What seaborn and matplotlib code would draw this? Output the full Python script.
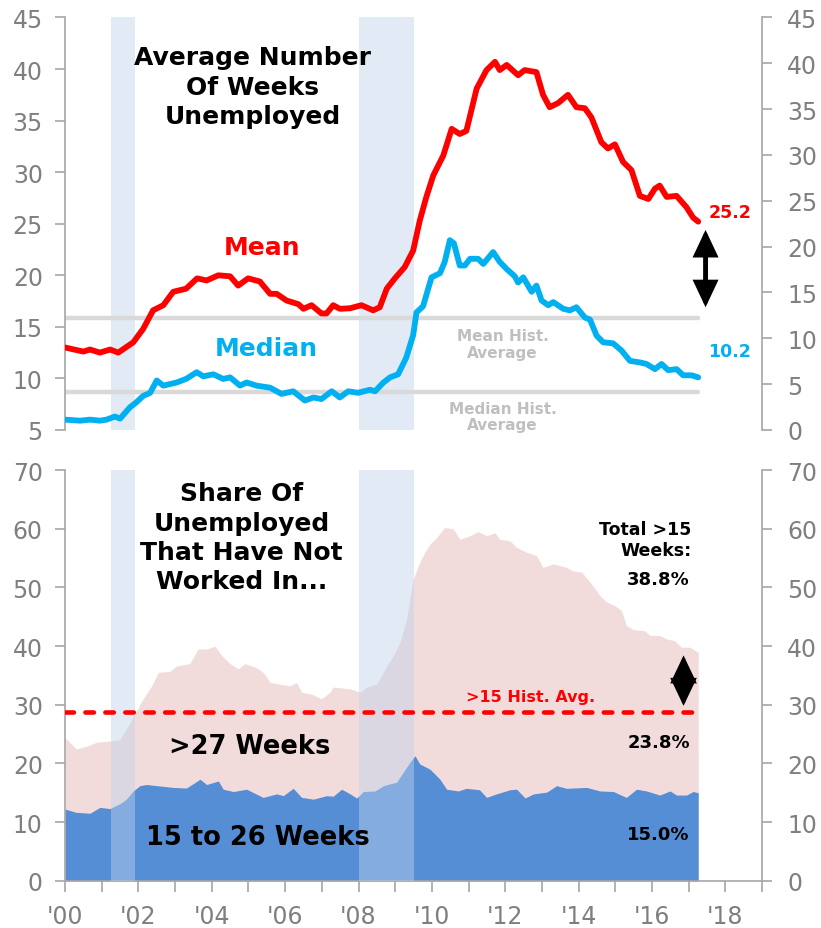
import numpy as np
import pandas as pd
import seaborn as sns
import matplotlib.pyplot as plt

# --- data (decimal years) ---
mean_years = [2000.0, 2000.5, 2000.68, 2000.95, 2001.23, 2001.45, 2001.86, 2002.13, 2002.4, 2002.68,
              2002.95, 2003.3, 2003.6, 2003.86, 2004.18, 2004.5, 2004.72, 2004.99, 2005.31, 2005.59,
              2005.77, 2006.04, 2006.36, 2006.5, 2006.72, 2006.99, 2007.13, 2007.31, 2007.49, 2007.77,
              2008.08, 2008.4, 2008.58, 2008.77, 2008.99, 2009.26, 2009.49, 2009.67, 2009.85, 2010.04,
              2010.31, 2010.54, 2010.76, 2010.94, 2011.22, 2011.49, 2011.72, 2011.85, 2012.04, 2012.35,
              2012.53, 2012.85, 2013.03, 2013.21, 2013.44, 2013.71, 2013.94, 2014.17, 2014.35, 2014.62,
              2014.8, 2014.99, 2015.21, 2015.44, 2015.67, 2015.9, 2016.08, 2016.21, 2016.4, 2016.67,
              2016.94, 2017.12, 2017.26]
mean_weeks = [13.0, 12.6, 12.8, 12.5, 12.8, 12.5, 13.5, 14.8, 16.6, 17.1,
              18.4, 18.7, 19.7, 19.5, 20.0, 19.9, 19.0, 19.7, 19.4, 18.2,
              18.2, 17.55, 17.2, 16.75, 17.1, 16.3, 16.3, 17.1, 16.75, 16.8,
              17.1, 16.6, 16.9, 18.7, 19.7, 20.8, 22.4, 25.3, 27.6, 29.7,
              31.6, 34.2, 33.7, 34.0, 38.1, 39.9, 40.7, 39.9, 40.4, 39.4,
              39.9, 39.7, 37.5, 36.3, 36.7, 37.5, 36.3, 36.2, 35.3, 32.9,
              32.3, 32.7, 31.0, 30.2, 27.7, 27.4, 28.4, 28.7, 27.6, 27.7,
              26.6, 25.6, 25.2]

median_years = [2000.0, 2000.41, 2000.68, 2000.95, 2001.13, 2001.36, 2001.5, 2001.77, 2001.95, 2002.13,
                2002.32, 2002.5, 2002.68, 2003.04, 2003.3, 2003.59, 2003.77, 2004.04, 2004.31, 2004.5,
                2004.77, 2004.95, 2005.22, 2005.59, 2005.9, 2006.22, 2006.54, 2006.77, 2006.99, 2007.27,
                2007.49, 2007.72, 2007.99, 2008.31, 2008.45, 2008.68, 2008.86, 2009.08, 2009.3, 2009.49,
                2009.58, 2009.76, 2009.99, 2010.22, 2010.35, 2010.49, 2010.6, 2010.76, 2010.9, 2011.04,
                2011.26, 2011.4, 2011.67, 2011.85, 2012.04, 2012.26, 2012.35, 2012.49, 2012.72, 2012.85,
                2012.99, 2013.17, 2013.31, 2013.58, 2013.76, 2013.94, 2014.17, 2014.31, 2014.49, 2014.67,
                2014.94, 2015.17, 2015.4, 2015.67, 2015.85, 2016.08, 2016.26, 2016.44, 2016.67, 2016.85,
                2017.08, 2017.26]
median_weeks = [6.0, 5.9, 6.0, 5.9, 6.0, 6.3, 6.1, 7.2, 7.7, 8.3,
                8.6, 9.8, 9.3, 9.6, 9.95, 10.6, 10.2, 10.4, 9.95, 10.1,
                9.3, 9.6, 9.3, 9.1, 8.5, 8.75, 7.85, 8.15, 8.0, 8.75,
                8.15, 8.75, 8.6, 8.9, 8.75, 9.6, 10.1, 10.4, 12.0, 14.2,
                16.4, 17.0, 19.8, 20.2, 21.3, 23.4, 23.1, 20.95, 20.95, 21.6,
                21.6, 21.1, 22.25, 21.3, 20.6, 19.9, 19.3, 19.8, 18.4, 19.0,
                17.55, 17.1, 17.4, 16.75, 16.6, 16.9, 15.9, 15.7, 14.15, 13.5,
                13.4, 12.7, 11.7, 11.55, 11.4, 10.9, 11.4, 10.8, 10.9, 10.3,
                10.3, 10.1]

mean_hist_avg = 15.85
median_hist_avg = 8.7

# share of unemployed out > 15 weeks (top of pink area)
total_years = [2000.0, 2000.31, 2000.58, 2000.86, 2001.22, 2001.49, 2001.67, 2001.86, 2002.13, 2002.36,
               2002.54, 2002.86, 2003.04, 2003.4, 2003.63, 2003.86, 2004.09, 2004.27, 2004.5, 2004.72,
               2004.9, 2005.22, 2005.4, 2005.59, 2005.86, 2006.13, 2006.31, 2006.45, 2006.72, 2006.99,
               2007.22, 2007.31, 2007.77, 2008.04, 2008.22, 2008.49, 2008.77, 2008.95, 2009.13, 2009.31,
               2009.49, 2009.67, 2009.81, 2009.95, 2010.13, 2010.35, 2010.58, 2010.76, 2011.04, 2011.26,
               2011.49, 2011.72, 2011.85, 2012.13, 2012.31, 2012.58, 2012.85, 2013.03, 2013.31, 2013.67,
               2013.85, 2014.08, 2014.31, 2014.58, 2014.76, 2014.99, 2015.17, 2015.3, 2015.49, 2015.8,
               2015.94, 2016.21, 2016.4, 2016.62, 2016.8, 2017.03, 2017.26]
total_share = [24.4, 22.45, 22.9, 23.6, 23.8, 24.0, 25.9, 27.9, 31.0, 33.2,
               35.5, 35.7, 36.6, 37.0, 39.5, 39.5, 39.95, 38.4, 37.0, 36.1,
               37.0, 36.3, 35.5, 33.8, 33.5, 33.2, 33.8, 32.1, 31.8, 31.0,
               32.1, 33.0, 32.7, 32.1, 33.0, 33.5, 36.6, 38.4, 40.6, 44.6,
               51.4, 54.3, 56.0, 57.4, 58.5, 60.2, 60.0, 58.2, 58.8, 59.5,
               58.8, 59.3, 58.2, 57.9, 56.8, 56.0, 55.4, 53.4, 54.0, 53.4,
               52.8, 52.6, 50.9, 48.6, 47.5, 46.9, 46.0, 43.5, 42.8, 42.6,
               41.8, 41.8, 41.2, 40.9, 39.8, 39.8, 38.9]

# share out 15 to 26 weeks (blue area)
short_years = [2000.0, 2000.31, 2000.68, 2000.95, 2001.22, 2001.49, 2001.67, 2001.86, 2002.04, 2002.22,
               2002.5, 2002.95, 2003.31, 2003.68, 2003.86, 2004.18, 2004.31, 2004.59, 2004.95, 2005.4,
               2005.77, 2005.95, 2006.22, 2006.45, 2006.77, 2007.13, 2007.31, 2007.54, 2007.77, 2007.95,
               2008.13, 2008.45, 2008.68, 2009.04, 2009.22, 2009.4, 2009.54, 2009.67, 2009.95, 2010.22,
               2010.4, 2010.72, 2010.94, 2011.3, 2011.49, 2011.76, 2012.13, 2012.31, 2012.54, 2012.77,
               2013.13, 2013.4, 2013.67, 2014.22, 2014.58, 2014.95, 2015.3, 2015.58, 2015.85, 2016.21,
               2016.49, 2016.67, 2016.94, 2017.12, 2017.26]
short_share = [12.2, 11.65, 11.5, 12.5, 12.3, 13.1, 13.9, 15.3, 16.2, 16.4,
               16.2, 15.9, 15.8, 17.3, 16.4, 17.0, 15.6, 15.2, 15.6, 14.2,
               14.8, 14.5, 15.75, 14.2, 13.9, 14.5, 14.4, 15.6, 14.8, 14.1,
               15.2, 15.3, 16.2, 16.8, 18.5, 20.2, 21.3, 19.9, 19.0, 17.3,
               15.6, 15.3, 15.75, 15.5, 14.2, 14.8, 15.5, 15.6, 14.1, 14.8,
               15.1, 16.2, 15.75, 15.9, 15.3, 15.2, 14.2, 15.6, 15.3, 14.6,
               15.3, 14.6, 14.6, 15.2, 15.0]

over15_hist_avg = 28.8

recessions = [(2001.25, 2001.92), (2008.0, 2009.5)]

year_ticks = list(range(2000, 2019, 2))
year_labels = ["'00", "'02", "'04", "'06", "'08", "'10", "'12", "'14", "'16", "'18"]

# --- style ---
sns.set_theme(style='white')
plt.rcParams['font.family'] = ['DejaVu Sans']
plt.rcParams['text.color'] = 'black'
grey_txt = '#7F7F7F'
spine_col = '#A6A6A6'
red = '#FF0000'
cyan = '#00B0F0'
band_col = (190/255, 210/255, 235/255)

fig = plt.figure(figsize=(8.21, 9.29), dpi=100)
ax1 = fig.add_axes([0.0792, 0.5361, 0.849, 0.4440])
ax2 = fig.add_axes([0.0792, 0.0509, 0.849, 0.4421])


def style_axis(ax):
    for s in ['top', 'right', 'bottom', 'left']:
        ax.spines[s].set_visible(False)
    ax.spines['left'].set_visible(True)
    ax.spines['left'].set_color(spine_col)
    ax.spines['left'].set_linewidth(1.2)
    ax.tick_params(axis='y', direction='out', length=7, width=1.2, color=spine_col,
                   labelsize=17, labelcolor=grey_txt, pad=9, left=True)


def style_right(ax, top):
    for s in ['top', 'left', 'bottom']:
        ax.spines[s].set_visible(False)
    ax.spines['right'].set_color(spine_col)
    ax.spines['right'].set_linewidth(1.2)
    ax.tick_params(axis='y', direction='out', length=7, width=1.2, color=spine_col,
                   labelsize=17, labelcolor=grey_txt, pad=11, right=True)
    ax.grid(False)


# ---------- top panel ----------
style_axis(ax1)
for a, b in recessions:
    ax1.axvspan(a, b, color=band_col, alpha=0.45, lw=0, zorder=0)

ax1.plot([2000, 2017.26], [mean_hist_avg] * 2, color='#D9D9D9', lw=3.2, zorder=1)
ax1.plot([2000, 2017.26], [median_hist_avg] * 2, color='#D9D9D9', lw=3.2, zorder=1)

top = pd.DataFrame({'year': mean_years, 'weeks': mean_weeks})
med = pd.DataFrame({'year': median_years, 'weeks': median_weeks})
sns.lineplot(data=top, x='year', y='weeks', color=red, linewidth=4.2, ax=ax1, zorder=3)
sns.lineplot(data=med, x='year', y='weeks', color=cyan, linewidth=4.2, ax=ax1, zorder=3)

ax1.set_xlim(2000, 2019)
ax1.set_ylim(5, 45)
ax1.set_yticks(range(5, 50, 5))
ax1.set_xticks([])
ax1.set_xlabel('')
ax1.set_ylabel('')

ax1r = ax1.twinx()
ax1r.set_ylim(0, 45)
ax1r.set_yticks(range(0, 50, 5))
style_right(ax1r, 45)

ax1.text(2005.12, 38.3, 'Average Number\nOf Weeks\nUnemployed', ha='center', va='center',
         fontsize=18, fontweight='bold', color='black', linespacing=1.3)
ax1.text(2005.37, 22.7, 'Mean', ha='center', va='center', fontsize=18, fontweight='bold', color=red)
ax1.text(2005.5, 12.9, 'Median', ha='center', va='center', fontsize=18, fontweight='bold', color=cyan)
ax1.text(2017.55, 26.1, '25.2', ha='left', va='center', fontsize=12.5, fontweight='bold', color=red)
ax1.text(2017.52, 12.7, '10.2', ha='left', va='center', fontsize=12.5, fontweight='bold', color=cyan)
ax1.text(2011.93, 13.35, 'Mean Hist.\nAverage', ha='center', va='center', fontsize=11,
         fontweight='bold', color='#BFBFBF', linespacing=1.15)
ax1.text(2011.93, 6.3, 'Median Hist.\nAverage', ha='center', va='center', fontsize=11,
         fontweight='bold', color='#BFBFBF', linespacing=1.15)
ax1.annotate('', xy=(2017.46, 24.4), xytext=(2017.46, 16.9),
             arrowprops=dict(arrowstyle='<|-|>,head_length=0.7,head_width=0.33', lw=3.5,
                             color='black', shrinkA=0, shrinkB=0, mutation_scale=20,
                             joinstyle='miter'))

# ---------- bottom panel ----------
style_axis(ax2)
ax2.fill_between(total_years, 0, total_share, color='#F2DCDB', lw=0, zorder=1)
ax2.fill_between(short_years, 0, short_share, color='#558ED5', lw=0, zorder=2)
for a, b in recessions:
    ax2.axvspan(a, b, color=band_col, alpha=0.45, lw=0, zorder=3)
ax2.plot([2000, 2017.26], [over15_hist_avg] * 2, color=red, lw=3.3, zorder=4,
         dashes=(1.85, 2.5), dash_capstyle='round')

ax2.set_xlim(2000, 2019)
ax2.set_ylim(0, 70)
ax2.set_yticks(range(0, 80, 10))
ax2.spines['bottom'].set_visible(True)
ax2.spines['bottom'].set_color(spine_col)
ax2.spines['bottom'].set_linewidth(1.2)
ax2.set_xticks(year_ticks)
ax2.set_xticklabels(year_labels)
ax2.set_xticks(range(2000, 2020), minor=True)
ax2.tick_params(axis='x', which='both', direction='out', length=8, width=1.2, color=spine_col,
                labelsize=17, labelcolor=grey_txt, pad=9, bottom=True)

ax2r = ax2.twinx()
ax2r.set_ylim(0, 70)
ax2r.set_yticks(range(0, 80, 10))
style_right(ax2r, 70)

ax2.text(2004.81, 58.5, 'Share Of\nUnemployed\nThat Have Not\nWorked In...', ha='center', va='center',
         fontsize=18, fontweight='bold', color='black', linespacing=1.28, zorder=6)
ax2.text(2005.04, 23.0, '>27 Weeks', ha='center', va='center', fontsize=18.5, fontweight='bold',
         color='black', zorder=6)
ax2.text(2005.26, 7.4, '15 to 26 Weeks', ha='center', va='center', fontsize=18.5, fontweight='bold',
         color='black', zorder=6)
ax2.text(2012.7, 31.4, '>15 Hist. Avg.', ha='center', va='center', fontsize=11.5, fontweight='bold',
         color=red, zorder=6)
ax2.text(2017.07, 58.1, 'Total >15\nWeeks:', ha='right', va='center', fontsize=12.5,
         fontweight='bold', color='black', linespacing=1.2, zorder=6)
ax2.text(2017.03, 51.4, '38.8%', ha='right', va='center', fontsize=13, fontweight='bold',
         color='black', zorder=6)
ax2.text(2017.03, 23.7, '23.8%', ha='right', va='center', fontsize=13, fontweight='bold',
         color='black', zorder=6)
ax2.text(2017.03, 7.96, '15.0%', ha='right', va='center', fontsize=13, fontweight='bold',
         color='black', zorder=6)
ax2.annotate('', xy=(2016.86, 38.4), xytext=(2016.86, 29.8),
             arrowprops=dict(arrowstyle='<|-|>,head_length=0.8,head_width=0.38', lw=2.5,
                             color='black', shrinkA=0, shrinkB=0, mutation_scale=20,
                             joinstyle='miter'), zorder=6)

fig.savefig('out.png', dpi=100)
